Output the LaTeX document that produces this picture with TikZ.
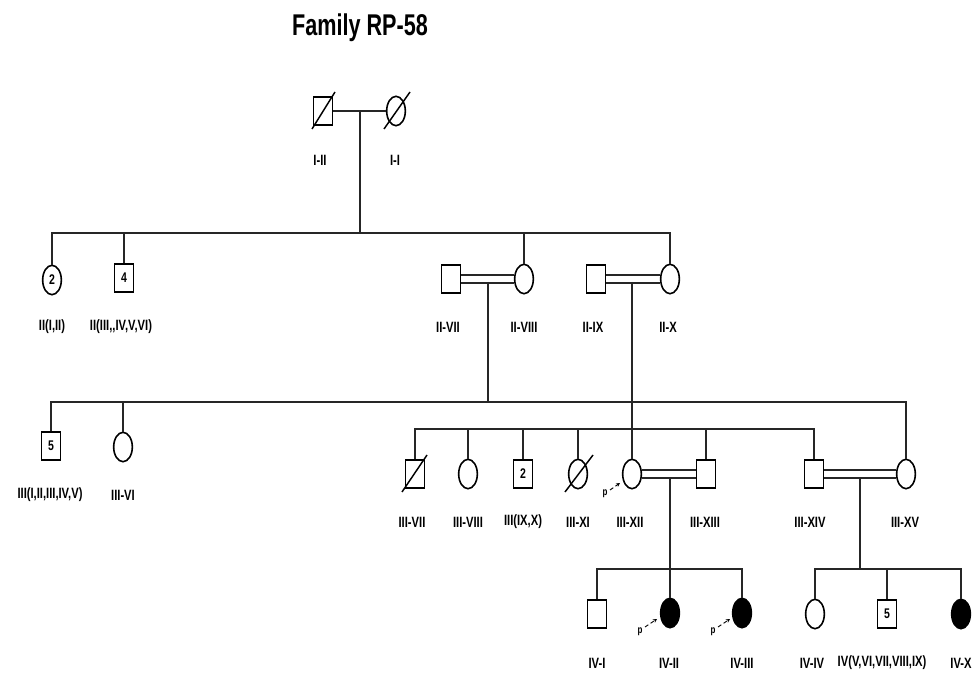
\documentclass[tikz,border=0pt]{standalone}
\usepackage{fontspec}
\setmainfont{Liberation Sans}
\newfontfamily\labfont[FakeStretch=0.75]{Liberation Sans}
\newfontfamily\titfont[FakeStretch=0.72]{Liberation Sans}
\usetikzlibrary{shapes.geometric,arrows.meta}
\begin{document}
\begin{tikzpicture}[x=0.75pt,y=-0.75pt,
  male/.style={draw,rectangle,minimum width=14.5pt,minimum height=21pt,inner sep=0pt,line width=1.2pt,font=\labfont\bfseries\fontsize{10.5}{10.5}\selectfont},
  female/.style={draw,ellipse,minimum width=14pt,minimum height=22pt,inner sep=0pt,line width=1.2pt,font=\labfont\bfseries\fontsize{10.5}{10.5}\selectfont},
  aff/.style={fill=black},
  lab/.style={font=\labfont\bfseries\fontsize{11.2}{12}\selectfont,inner sep=0pt},
  conn/.style={line width=0.9pt,draw=black!85},
  slash/.style={line width=1.1pt},
  parrow/.style={densely dashed,line width=0.7pt,-{Stealth[length=3pt,width=3pt]}},
  plab/.style={font=\labfont\bfseries\fontsize{8}{8}\selectfont,inner sep=0pt}
]
\useasboundingbox (0,0) rectangle (977,673);
\fill[white] (0,0) rectangle (977,673);

% title
\node[font=\titfont\bfseries\fontsize{22.5}{24}\selectfont,anchor=base,inner sep=0pt] (title) at (360,36) {Family RP-58};

% Generation I
\node[male] (I2) at (323,111) {};
\node[female] (I1) at (396,111) {};
\draw[slash] (312,129) -- (335,92);
\draw[slash] (384,129) -- (410,92);
\draw[conn] (I2.east) -- (I1.west);
\coordinate (mI) at (360,111);
\coordinate (sII) at (360,233);
\draw[conn] (mI) -- (sII);
\node[lab] (lI2) at (320,160) {I-II};
\node[lab] (lI1) at (395,160) {I-I};

% Generation II
\node[female] (IIa) at (52,280) {2};
\node[male] (IIb) at (124,278) {4};
\node[male] (II7) at (451,279) {};
\node[female] (II8) at (524,279) {};
\node[male] (II9) at (596,279) {};
\node[female] (II10) at (670,279) {};
\draw[conn] (IIa.north) -- (IIa.north |- sII) -- (II10.north |- sII) -- (II10.north);
\draw[conn] (IIb.north) -- (IIb.north |- sII);
\draw[conn] (II8.north) -- (II8.north |- sII);
% consanguineous marriages
\draw[conn] ([yshift=3pt]II7.east) -- ([yshift=3pt]II8.west);
\draw[conn] ([yshift=-3pt]II7.east) -- ([yshift=-3pt]II8.west);
\draw[conn] ([yshift=3pt]II9.east) -- ([yshift=3pt]II10.west);
\draw[conn] ([yshift=-3pt]II9.east) -- ([yshift=-3pt]II10.west);
\node[lab] (lIIa) at (52,327) {II(I,II)};
\node[lab] (lIIb) at (121,327) {II(III,,IV,V,VI)};
\node[lab] (lII7) at (448,327) {II-VII};
\node[lab] (lII8) at (524,327) {II-VIII};
\node[lab] (lII9) at (593,327) {II-IX};
\node[lab] (lII10) at (668,327) {II-X};

% Generation III
\coordinate (m78) at (488,282);
\coordinate (sIIIa) at (488,402);
\coordinate (m910) at (632,282);
\coordinate (sIIIb) at (632,429);
\node[male] (IIIa) at (51,446) {5};
\node[female] (III6) at (123,447) {};
\node[male] (III7) at (415,474) {};
\node[female] (III8) at (468,474) {};
\node[male] (IIIc) at (523,474) {2};
\node[female] (III11) at (578,474) {};
\node[female] (III12) at (632,474) {};
\node[male] (III13) at (706,474) {};
\node[male] (III14) at (814,474) {};
\node[female] (III15) at (906,474) {};
\draw[slash] (402,492) -- (427,455);
\draw[slash] (565,492) -- (593,455);
\draw[conn] (m78) -- (sIIIa);
\draw[conn] (IIIa.north) -- (IIIa.north |- sIIIa) -- (III15.north |- sIIIa) -- (III15.north);
\draw[conn] (III6.north) -- (III6.north |- sIIIa);
\draw[conn] (m910) -- (III12.north);
\draw[conn] (III7.north) -- (III7.north |- sIIIb) -- (III14.north |- sIIIb) -- (III14.north);
\draw[conn] (III8.north) -- (III8.north |- sIIIb);
\draw[conn] (IIIc.north) -- (IIIc.north |- sIIIb);
\draw[conn] (III11.north) -- (III11.north |- sIIIb);
\draw[conn] (III13.north) -- (III13.north |- sIIIb);
\draw[conn] ([yshift=3pt]III12.east) -- ([yshift=3pt]III13.west);
\draw[conn] ([yshift=-3pt]III12.east) -- ([yshift=-3pt]III13.west);
\draw[conn] ([yshift=3pt]III14.east) -- ([yshift=3pt]III15.west);
\draw[conn] ([yshift=-3pt]III14.east) -- ([yshift=-3pt]III15.west);
\node[plab] (p12) at (605,494) {p};
\coordinate (p12a) at (610,490);
\coordinate (p12b) at (620,483);
\draw[parrow] (p12a) -- (p12b);
\node[lab] (lIIIa) at (50,495) {III(I,II,III,IV,V)};
\node[lab] (lIII6) at (123,495) {III-VI};
\node[lab] (lIII7) at (412,522) {III-VII};
\node[lab] (lIII8) at (468,522) {III-VIII};
\node[lab] (lIIIc) at (523,522) {III(IX,X)};
\node[lab] (lIII11) at (578,522) {III-XI};
\node[lab] (lIII12) at (630,522) {III-XII};
\node[lab] (lIII13) at (705,522) {III-XIII};
\node[lab] (lIII14) at (810,522) {III-XIV};
\node[lab] (lIII15) at (905,522) {III-XV};

% Generation IV
\coordinate (m1213) at (670,478);
\coordinate (sIVa) at (670,569);
\coordinate (m1415) at (860,478);
\coordinate (sIVb) at (860,569);
\node[male] (IV1) at (597,614) {};
\node[female,aff] (IV2) at (670,613) {};
\node[female,aff] (IV3) at (742,613) {};
\node[female] (IV4) at (815,614) {};
\node[male] (IVc) at (887,614) {5};
\node[female,aff] (IV10) at (961,614) {};
\draw[conn] (m1213) -- (sIVa);
\draw[conn] (IV1.north) -- (IV1.north |- sIVa) -- (IV3.north |- sIVa) -- (IV3.north);
\draw[conn] (IV2.north) -- (IV2.north |- sIVa);
\draw[conn] (m1415) -- (sIVb);
\draw[conn] (IV4.north) -- (IV4.north |- sIVb) -- (IV10.north |- sIVb) -- (IV10.north);
\draw[conn] (IVc.north) -- (IVc.north |- sIVb);
\node[plab] (p2) at (640,632) {p};
\coordinate (p2a) at (645,627);
\coordinate (p2b) at (657,619);
\draw[parrow] (p2a) -- (p2b);
\node[plab] (p3) at (713,632) {p};
\coordinate (p3a) at (718,627);
\coordinate (p3b) at (730,619);
\draw[parrow] (p3a) -- (p3b);
\node[lab] (lIV1) at (597,663) {IV-I};
\node[lab] (lIV2) at (669,663) {IV-II};
\node[lab] (lIV3) at (742,663) {IV-III};
\node[lab] (lIV4) at (812,663) {IV-IV};
\node[lab] (lIVc) at (882,663) {IV(V,VI,VII,VIII,IX)};
\node[lab] (lIV10) at (961,663) {IV-X};
\end{tikzpicture}
\end{document}
